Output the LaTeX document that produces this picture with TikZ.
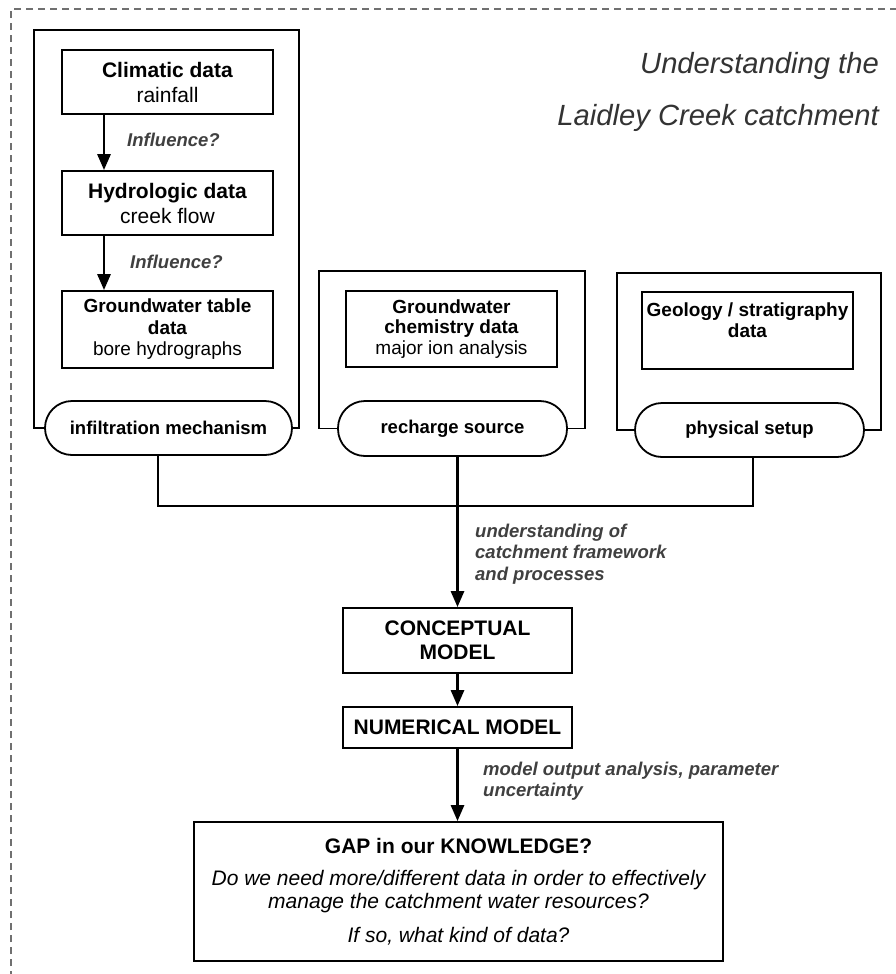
\documentclass[tikz,border=0pt]{standalone}
\usepackage{fontspec}
\setmainfont{Liberation Sans}
\usetikzlibrary{arrows.meta}
\definecolor{lblgray}{HTML}{404040}
\definecolor{titlegray}{HTML}{333333}
\definecolor{dashgray}{HTML}{707070}
\newcommand\myfs[2]{\fontsize{#1}{#2}\selectfont}
\begin{document}
\begin{tikzpicture}[x=1pt,y=-1pt,
  box/.style={draw, line width=1.8pt, inner sep=0pt, align=center},
  databox/.style={box, minimum width=211pt},
  stadium/.style={draw, line width=1.8pt, rounded corners=27pt, inner sep=0pt, align=center,
    minimum height=54pt, font=\bfseries\myfs{18.5}{22}},
  frameline/.style={line width=1.8pt},
  link/.style={line width=1.8pt},
  arr/.style={line width=2.8pt, -{Triangle[length=16pt,width=13pt]}},
  lbl/.style={font=\bfseries\itshape\myfs{18.5}{21.5}, text=lblgray, inner sep=0pt, align=left},
  titletext/.style={font=\itshape\myfs{29.2}{33}, text=titlegray, inner sep=0pt},
  outerdash/.style={draw=dashgray, line width=1.3pt, dash pattern=on 7pt off 5pt}]
\clip (0,0) rectangle (896,974);
\fill[white] (0,0) rectangle (896,974);
% dashed outer frame (only top and left visible)
\draw[outerdash] (11,990) -- (11,9) -- (910,9);
% title
\node[titletext, anchor=east] (t1) at (879,66) {Understanding the};
\node[titletext, anchor=east] (t2) at (879,118) {Laidley Creek catchment};
% group 1
\node[databox, minimum height=64pt, font=\myfs{21}{25}] (clim) at (167.5,82) {\textbf{Climatic data}\\rainfall};
\node[databox, minimum height=64pt, font=\myfs{21}{25}] (hydro) at (167.5,203) {\textbf{Hydrologic data}\\creek flow};
\node[databox, minimum height=77pt, font=\myfs{19}{21.5}] (gwt) at (167.5,329.5) {\textbf{Groundwater table}\\\textbf{data}\\bore hydrographs};
\node[stadium, minimum width=247pt] (inf) at (168.5,428) {infiltration mechanism};
\coordinate (g1tl) at (34,30);
\coordinate (g1tr) at (299,30);
\draw[frameline] (inf.west) -| (g1tl) -- (g1tr) |- (inf.east);
\coordinate (ax) at (104,0);
\draw[arr] (clim.south -| ax) -- (hydro.north -| ax);
\draw[arr] (hydro.south -| ax) -- (gwt.north -| ax);
\node[lbl, anchor=west] (inf1) at (127,140) {Influence?};
\node[lbl, anchor=west] (inf2) at (130,262) {Influence?};
% group 2
\node[databox, minimum height=76pt, font=\myfs{19}{20.5}] (chem) at (451.5,329) {\textbf{Groundwater}\\\textbf{chemistry data}\\major ion analysis};
\node[stadium, minimum width=229pt, minimum height=55pt] (rech) at (452.5,428.5) {recharge source};
\coordinate (g2tl) at (319,271);
\coordinate (g2tr) at (585,271);
\draw[frameline] (rech.west) -| (g2tl) -- (g2tr) |- (rech.east);
% group 3
\node[databox, minimum height=77pt, font=\bfseries\myfs{19}{21}] (geo) at (747.5,330.5) {Geology / stratigraphy\\data\\\mbox{}};
\node[stadium, minimum width=229pt] (phys) at (749.5,430) {physical setup};
\coordinate (g3tl) at (617,273);
\coordinate (g3tr) at (881,273);
\draw[frameline] (phys.west) -| (g3tl) -- (g3tr) |- (phys.east);
% lower chain
\node[box, minimum width=229pt, minimum height=65pt, font=\bfseries\myfs{21}{24}] (conc) at (457.5,640.5) {CONCEPTUAL\\MODEL};
\node[box, minimum width=229pt, minimum height=41pt, font=\bfseries\myfs{21}{24}] (num) at (457.5,727.5) {NUMERICAL MODEL};
\node[box, minimum width=529pt, minimum height=139pt, font=\myfs{21}{23}] (gap) at (458.5,891.5) {\textbf{GAP in our KNOWLEDGE?}\\[9pt]\itshape Do we need more/different data in order to effectively\\\itshape manage the catchment water resources?\\[11pt]\itshape If so, what kind of data?};
% collector line
\coordinate (j1) at (158,506);
\coordinate (j3) at (753,506);
\draw[link] (inf.south -| j1) -- (j1) -- (j3) -- (phys.south -| j3);
\draw[arr] (rech.south -| conc.north) -- (conc.north);
\draw[arr] (conc.south) -- (num.north);
\draw[arr] (num.south) -- (num.south |- gap.north);
\node[lbl, anchor=west] (l1) at (475,554) {understanding of\\catchment framework\\and processes};
\node[lbl, anchor=west] (l2) at (483,781) {model output analysis, parameter\\uncertainty};
\end{tikzpicture}
\end{document}
